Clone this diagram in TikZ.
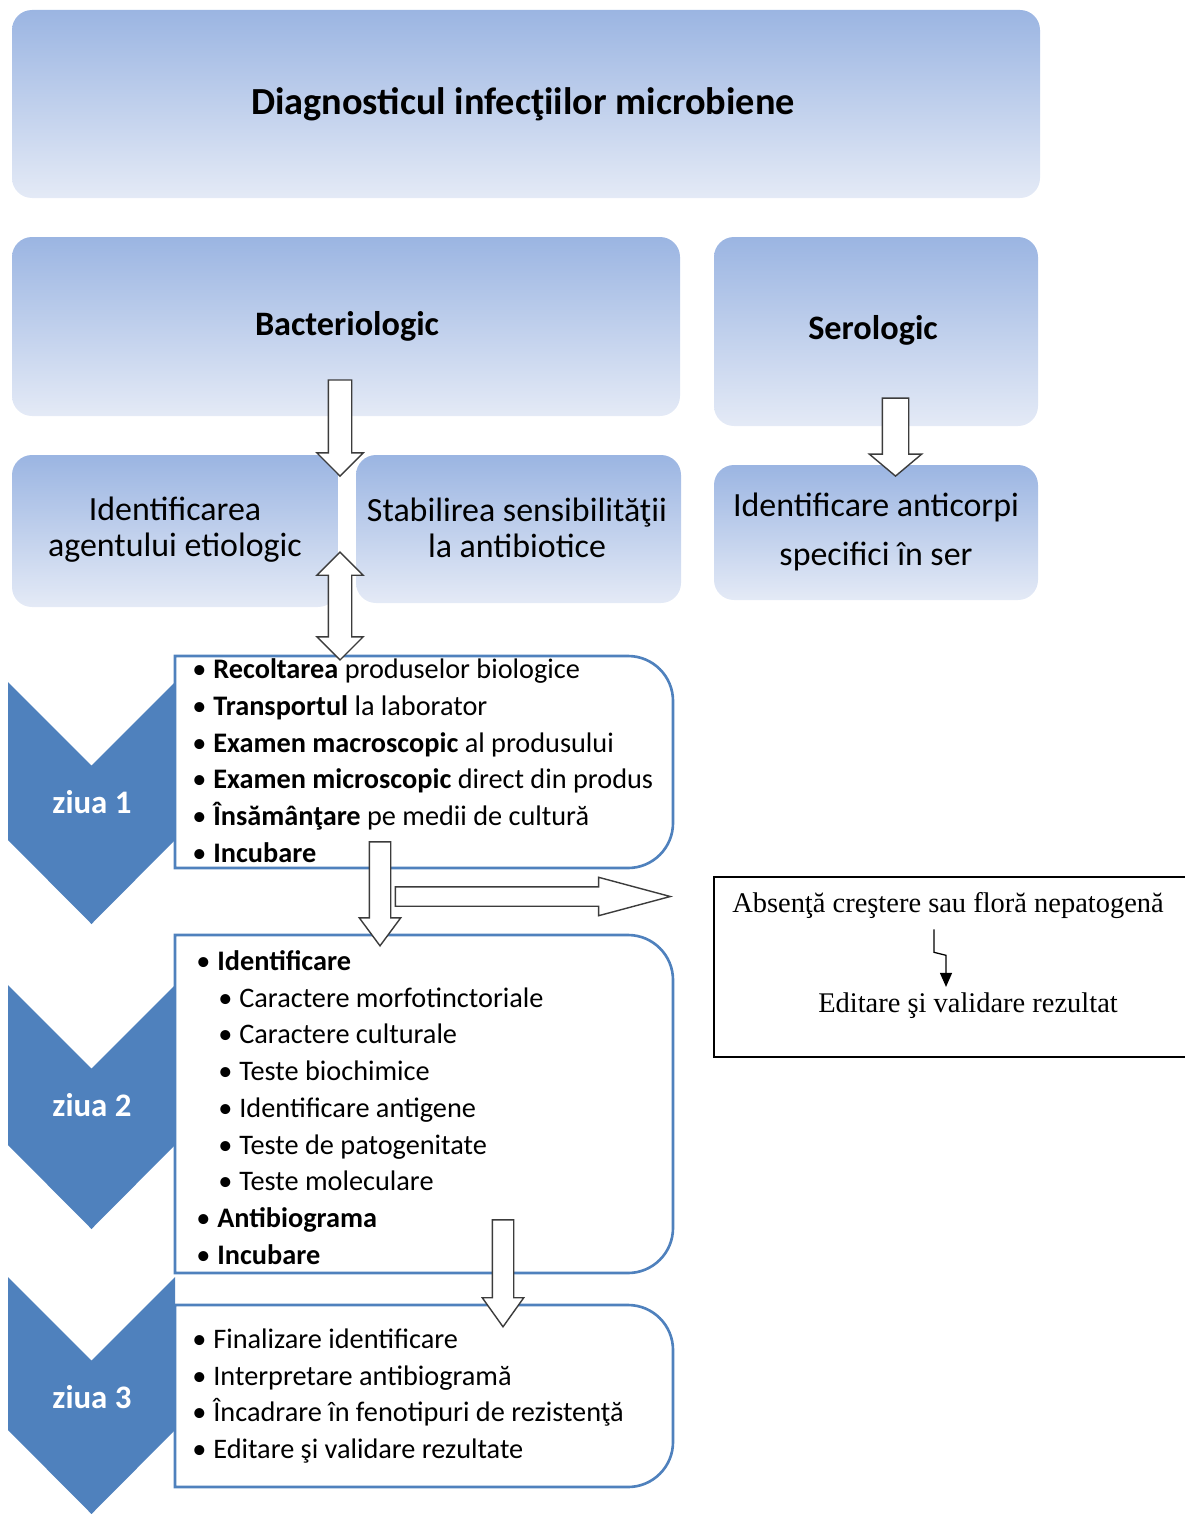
\documentclass[tikz,border=0pt]{standalone}
\usepackage{fontspec}
\setmainfont{Carlito}
\newfontfamily\timesfont{Liberation Serif}
\usetikzlibrary{arrows.meta, fit, shapes.arrows}

\definecolor{boxtop}{RGB}{155,181,226}
\definecolor{boxbottom}{RGB}{228,234,246}
\definecolor{dayblue}{RGB}{79,129,189}
\definecolor{arrowgray}{RGB}{60,60,60}

\begin{document}
\begin{tikzpicture}[x=0.02cm, y=-0.02cm,
	bluebox/.style={rounded corners=0.4cm, top color=boxtop, bottom color=boxbottom, inner sep=0pt},
	headfont/.style={font=\fontsize{19.5}{23}\selectfont\bfseries},
	midfont/.style={align=center, font=\fontsize{19.3}{20.4}\selectfont},
	item/.style={anchor=west, inner sep=0pt, text height=12pt, text depth=3.5pt, font=\fontsize{16.1}{19}\selectfont},
	daybox/.style={draw=dayblue, line width=1.5pt, fill=white},
	daylabel/.style={text=white, font=\fontsize{18.7}{21}\selectfont\bfseries},
	blockarrow/.style={single arrow, draw=arrowgray, fill=white, line width=0.8pt, inner xsep=0pt, rotate=-90, anchor=tip},
	resfont/.style={font=\timesfont\fontsize{16.2}{19}\selectfont}]
	\useasboundingbox (0,0) rectangle (1184,1514);
	% Specification of boxes
	\node[bluebox, fit={(12,10) (1040,198)}]	(title)		{};
	\node[bluebox, fit={(12,237) (680,416)}]	(bact)		{};
	\node[bluebox, fit={(714,237) (1038,426)}]	(sero)		{};
	\node[bluebox, fit={(12,455) (338,607)}]	(agent)		{};
	\node[bluebox, fit={(356,455) (681,603)}]	(sensib)	{};
	\node[bluebox, fit={(714,465) (1038,600)}]	(anticorpi)	{};
	\node[headfont, font=\fontsize{21.8}{26}\selectfont\bfseries]	(titletext)	at (523,104)	{Diagnosticul infecţiilor microbiene};
	\node[headfont]	(bacttext)	at (347,326)	{Bacteriologic};
	\node[headfont]	(serotext)	at (873,330)	{Serologic};
	\node[midfont]	(agenttext)	at (175,530)	{Identificarea\\agentului etiologic};
	\node[midfont]	(sensibtext)	at (517,528)	{Stabilirea sensibilităţii\\la antibiotice};
	\node[midfont, font=\fontsize{19.3}{28.3}\selectfont]	(anticorpitext)	at (876,532)	{Identificare anticorpi\\specifici în ser};
	% days
	\foreach \t/\h/\n in {682/158/1, 985/160/2, 1277/153/3} {
		\fill[dayblue] (8,\t) -- (91.5,\t+83.5) -- (175,\t) -- (175,\t+\h) -- (91.5,\t+\h+84) -- (8,\t+\h) -- cycle;
		\node[daylabel] (ziua\n) at (92,\t+120) {ziua \n};
	}
	\foreach \t/\b in {656/868, 935/1273, 1305/1487}
		\draw[daybox] (175,\t) -- (400,\t) [rounded corners=0.9cm] -- (673,\t) -- (673,\b) -- (400,\b) [sharp corners] -- (175,\b) -- cycle;
	\foreach \txt [count=\i from 0] in {{\textbf{Recoltarea} produselor biologice}, {\textbf{Transportul} la laborator}, {\textbf{Examen macroscopic} al produsului}, {\textbf{Examen microscopic} direct din produs}, {\textbf{Însămânţare} pe medii de cultură}, {\textbf{Incubare}}}
		\node[item] (dayone\i) at (192,671+36.8*\i) {\makebox[0.42cm][l]{\textbullet}\txt};
	\foreach \x/\txt [count=\i from 0] in {196/{\textbf{Identificare}}, 218/Caractere morfotinctoriale, 218/Caractere culturale, 218/Teste biochimice, 218/Identificare antigene, 218/Teste de patogenitate, 218/Teste moleculare, 196/{\textbf{Antibiograma}}, 196/{\textbf{Incubare}}}
		\node[item] (daytwo\i) at (\x,963+36.75*\i) {\makebox[0.42cm][l]{\textbullet}\txt};
	\foreach \txt [count=\i from 0] in {Finalizare identificare, Interpretare antibiogramă, Încadrare în fenotipuri de rezistenţă, Editare şi validare rezultate}
		\node[item] (daythree\i) at (192,1341+36.7*\i) {\makebox[0.42cm][l]{\textbullet}\txt};
	% block arrows
	\node[blockarrow, minimum height=1.92cm, inner ysep=0.22cm, single arrow head extend=0.23cm]	(bactArrow)	at (340,477)	{};
	\node[blockarrow, minimum height=1.56cm, inner ysep=0.25cm, single arrow head extend=0.26cm, single arrow tip angle=100]	(seroArrow)	at (895.5,477)	{};
	\node[double arrow, draw=arrowgray, fill=white, line width=0.8pt, inner xsep=0pt, rotate=-90, minimum height=2.16cm, inner ysep=0.22cm, double arrow head extend=0.23cm]	(dblArrow)	at (340,606)	{};
	\node[blockarrow, minimum height=2.08cm, inner ysep=0.2cm, single arrow head extend=0.2cm, single arrow tip angle=73]	(dayArrowA)	at (380,947)	{};
	\node[blockarrow, rotate=90, minimum height=5.5cm, inner ysep=0.18cm, single arrow head extend=0.19cm, single arrow tip angle=30]	(rightArrow)	at (673,896.5)	{};
	\node[blockarrow, minimum height=2.14cm, inner ysep=0.2cm, single arrow head extend=0.2cm, single arrow tip angle=71]	(dayArrowB)	at (503,1328)	{};
	% result box
	\node[draw=black, line width=0.9pt, inner sep=0pt, fit={(714,877) (1200,1057)}]	(resultbox)	{};
	\node[resfont]	(absenta)	at (948,906)	{Absenţă creştere sau floră nepatogenă};
	\node[resfont]	(editare)	at (968,1006)	{Editare şi validare rezultat};
	\draw[line width=0.7pt, -{Triangle[length=0.28cm, width=0.24cm]}] ([xshift=-0.28cm, yshift=-0.08cm]absenta.south) -- ++(0,23) -- ++(12,3) -- ([xshift=-0.44cm]editare.north);
\end{tikzpicture}
\end{document}
